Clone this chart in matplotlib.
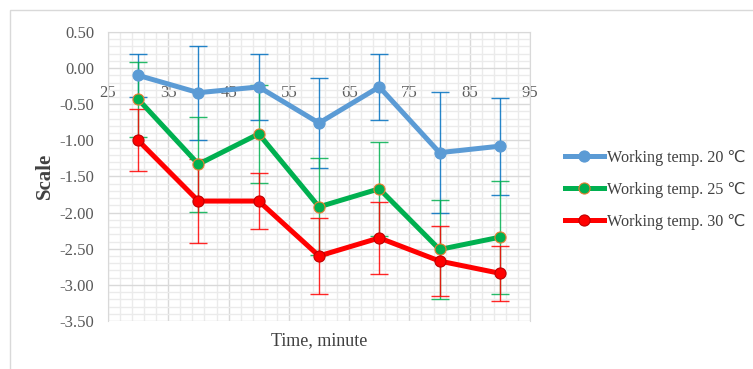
import matplotlib.pyplot as plt
from matplotlib.patches import Rectangle
from matplotlib.ticker import MultipleLocator

time_min = [30, 40, 50, 60, 70, 80, 90]

temp20 = [-0.10, -0.34, -0.26, -0.76, -0.26, -1.17, -1.08]
temp25 = [-0.43, -1.33, -0.91, -1.92, -1.67, -2.51, -2.34]
temp30 = [-1.00, -1.84, -1.84, -2.60, -2.35, -2.67, -2.84]

err20 = [0.30, 0.65, 0.46, 0.62, 0.46, 0.84, 0.67]
err25 = [0.52, 0.66, 0.68, 0.67, 0.65, 0.68, 0.78]
err30 = [0.43, 0.58, 0.39, 0.52, 0.50, 0.49, 0.38]

labels = ["Working temp. 20 \u2103", "Working temp. 25 \u2103", "Working temp. 30 \u2103"]

serif = ["Liberation Serif", "DejaVu Sans"]

fig = plt.figure(figsize=(7.53, 3.69), dpi=100)
ax = fig.add_axes([108 / 753, 1 - 321 / 369, 422 / 753, 289 / 369])

# chart frame
fig.patches.append(Rectangle((10 / 753, -0.1), 1.2, 1 - 10 / 369 + 0.1,
                             transform=fig.transFigure, fill=False,
                             edgecolor="#d9d9d9", linewidth=1))

series = [
    (temp20, err20, "#5b9bd5", "#0070c0", "#5b9bd5", "#5b9bd5"),
    (temp25, err25, "#00b050", "#00b050", "#00b050", "#ed7d31"),
    (temp30, err30, "#ff0000", "#ff0000", "#ff0000", "#c00000"),
]

for (vals, errs, col, ecol, mfc, mec), lab in zip(series, labels):
    ax.errorbar(time_min, vals, yerr=errs, fmt="none", ecolor=ecol,
                elinewidth=1, capsize=6.5, capthick=1, alpha=0.85, zorder=2)
    ax.plot(time_min, vals, color=col, linewidth=3.6, marker="o",
            markersize=8, markerfacecolor=mfc, markeredgecolor=mec,
            markeredgewidth=0.8, label=lab, zorder=3)

ax.set_xlim(25, 95)
ax.set_ylim(-3.5, 0.5)
ax.set_xticks(range(25, 96, 10))
ax.set_xticks([x for x in range(25, 96) if (x - 25) % 2 == 0 and (x - 25) % 10 != 0], minor=True)
ax.yaxis.set_major_locator(MultipleLocator(0.5))
ax.yaxis.set_minor_locator(MultipleLocator(0.1))
ax.grid(which="major", color="#d9d9d9", linewidth=1)
ax.grid(which="minor", color="#ebebeb", linewidth=1)
ax.set_axisbelow(True)

for side in ["top", "right", "left", "bottom"]:
    ax.spines[side].set_color("#d9d9d9")
ax.spines["bottom"].set_position(("data", 0))
ax.spines["bottom"].set_visible(False)

ax.yaxis.set_major_formatter(lambda v, p: f"{v:.2f}")
ax.tick_params(which="both", length=0)
ax.tick_params(axis="y", labelsize=12, labelcolor="#595959", pad=10)
ax.tick_params(axis="x", labelsize=12, labelcolor="#595959", pad=12)
for t in ax.get_xticklabels() + ax.get_yticklabels():
    t.set_fontfamily(serif)

ax.text(0.5, -0.04, "Time, minute", transform=ax.transAxes, ha="center",
        va="top", fontsize=13, family=serif, color="#404040")
fig.text(45 / 753, 1 - 176 / 369, "Scale", rotation=90, ha="center",
         va="center", fontsize=15, fontweight="bold",
         family=serif, color="#404040")

fig.legend(loc="center left", bbox_to_anchor=(565 / 753, 1 - 190 / 369),
           frameon=False, prop={"family": serif, "size": 11.6},
           labelcolor="#404040", handlelength=2.4, handletextpad=0.2,
           labelspacing=1.0, borderpad=0, borderaxespad=0)

fig.savefig("out.png", dpi=100)
